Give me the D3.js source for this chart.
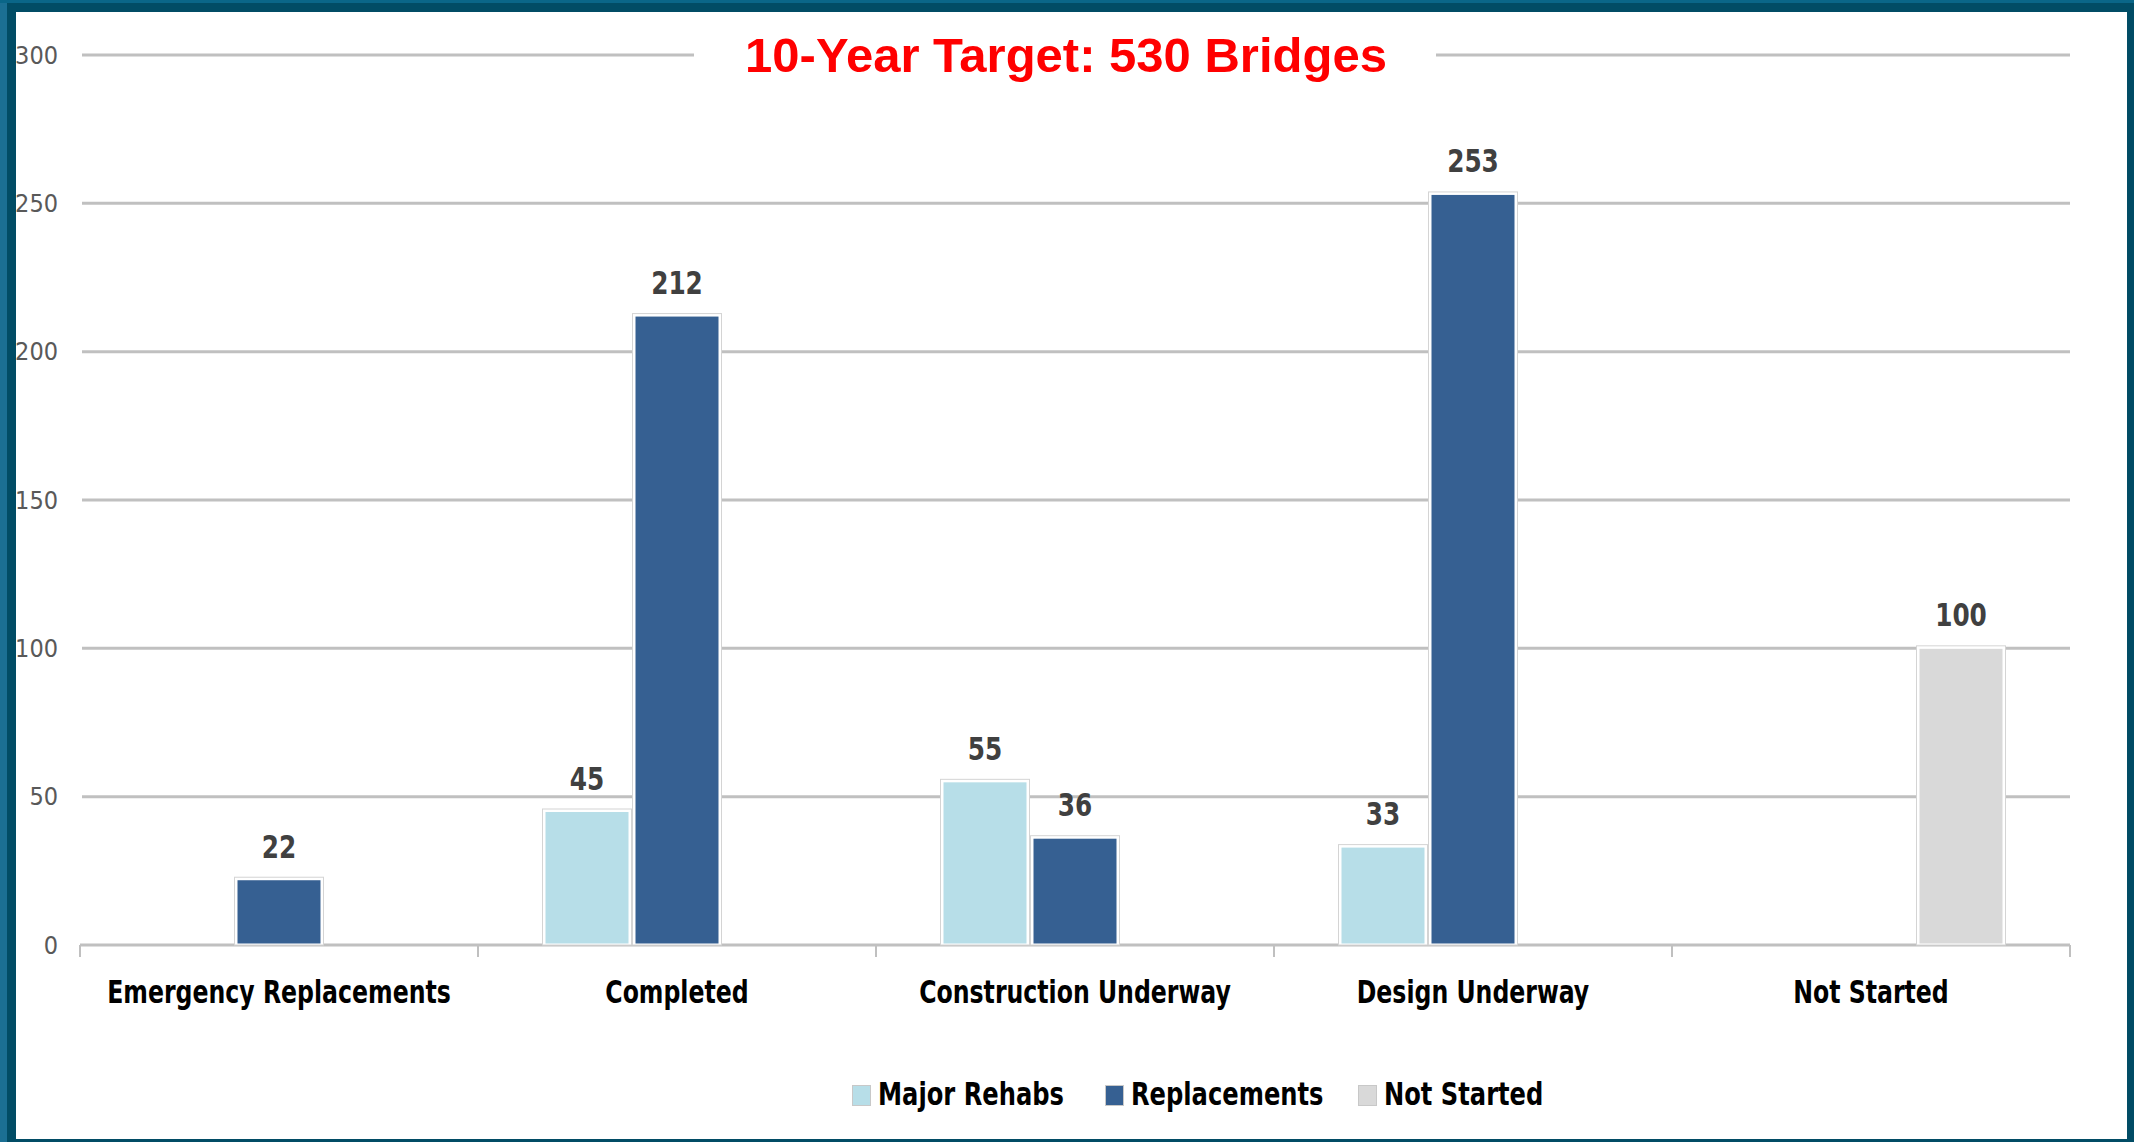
<!DOCTYPE html>
<html>
<head>
<meta charset="utf-8">
<script src="https://cdn.jsdelivr.net/npm/d3@7"></script>
<style>
    body { margin: 0; background: #014c65; }
    svg { display: block; }
</style>
</head>
<body>
<div id="chart"></div>
<script>
// Chart data
const categories = ["Emergency Replacements", "Completed", "Construction Underway", "Design Underway", "Not Started"];
const seriesNames = ["Major Rehabs", "Replacements", "Not Started"];
const majorRehabs = [0, 45, 55, 33, 0];
const replacements = [22, 212, 36, 253, 0];
const notStarted = [0, 0, 0, 0, 100];
const yTicks = [0, 50, 100, 150, 200, 250, 300];
const titleText = "10-Year Target: 530 Bridges";

const CONFIG = {
    width: 2134,
    height: 1142,
    plot: { left: 80, right: 2070, top: 55, bottom: 945 },
    groupWidth: 270,
    colors: ["#b7dee8", "#366092", "#d9d9d9"],
    grid: "#c0c0c0",
    labelFont: "'DejaVu Sans Condensed', 'DejaVu Sans', sans-serif"
};

const seriesValues = [majorRehabs, replacements, notStarted];

// Squeeze text horizontally so the wide fallback font reads like a narrow one
function narrow(sel, factor) {
    sel.each(function () {
        const len = this.getComputedTextLength();
        d3.select(this)
            .attr('textLength', len * factor)
            .attr('lengthAdjust', 'spacingAndGlyphs');
    });
}

const svg = d3.select('#chart')
    .append('svg')
    .attr('width', CONFIG.width)
    .attr('height', CONFIG.height);

// Frame around the white panel
svg.append('rect')
    .attr('width', CONFIG.width).attr('height', CONFIG.height)
    .attr('fill', '#014c65');
svg.append('rect')
    .attr('width', 7).attr('height', CONFIG.height)
    .attr('fill', '#1b6f93');
svg.append('rect')
    .attr('width', CONFIG.width).attr('height', 3)
    .attr('fill', '#0a6688');
svg.append('rect')
    .attr('x', 16).attr('y', 12)
    .attr('width', 2111).attr('height', 1127)
    .attr('fill', '#ffffff');

// Scales
const x0 = d3.scaleBand()
    .domain(categories)
    .range([CONFIG.plot.left, CONFIG.plot.right])
    .paddingInner(0);

const bw = x0.bandwidth();
const x1 = d3.scaleBand()
    .domain(seriesNames)
    .range([(bw - CONFIG.groupWidth) / 2, (bw + CONFIG.groupWidth) / 2]);

const y = d3.scaleLinear()
    .domain([0, 300])
    .range([CONFIG.plot.bottom, CONFIG.plot.top]);

// Gridlines
svg.append('g')
    .selectAll('line')
    .data(yTicks.filter(d => d > 0))
    .enter().append('line')
    .attr('x1', CONFIG.plot.left + 2)
    .attr('x2', CONFIG.plot.right)
    .attr('y1', d => y(d))
    .attr('y2', d => y(d))
    .attr('stroke', CONFIG.grid)
    .attr('stroke-width', 3);

// Y axis labels
const yAxis = svg.append('g')
    .attr('transform', `translate(${CONFIG.plot.left - 22},0)`)
    .call(d3.axisLeft(y).tickValues(yTicks).tickSize(0).tickPadding(0));
yAxis.select('.domain').remove();
yAxis.selectAll('text')
    .attr('fill', '#595959')
    .style('font-family', CONFIG.labelFont)
    .style('font-size', '25px');

// X axis with category ticks at band edges
const baseY = CONFIG.plot.bottom;
svg.append('line')
    .attr('x1', CONFIG.plot.left).attr('x2', CONFIG.plot.right)
    .attr('y1', baseY).attr('y2', baseY)
    .attr('stroke', CONFIG.grid).attr('stroke-width', 3);

const edges = categories.map(c => x0(c)).concat([CONFIG.plot.right]);
svg.append('g')
    .selectAll('line')
    .data(edges)
    .enter().append('line')
    .attr('x1', d => d).attr('x2', d => d)
    .attr('y1', baseY).attr('y2', baseY + 12)
    .attr('stroke', CONFIG.grid).attr('stroke-width', 2);

svg.append('g')
    .selectAll('text')
    .data(categories)
    .enter().append('text')
    .attr('x', d => x0(d) + bw / 2)
    .attr('y', baseY + 58)
    .attr('text-anchor', 'middle')
    .attr('fill', '#000')
    .style('font-family', CONFIG.labelFont)
    .style('font-weight', 'bold')
    .style('font-size', '32px')
    .text(d => d)
    .call(narrow, 0.82);

// Bars (zero values are not drawn)
const barData = [];
categories.forEach((c, i) => {
    seriesNames.forEach((s, j) => {
        const v = seriesValues[j][i];
        if (v > 0) barData.push({ cat: c, series: s, value: v, color: CONFIG.colors[j] });
    });
});

const bars = svg.append('g')
    .selectAll('g.bar')
    .data(barData)
    .enter().append('g')
    .attr('class', 'bar')
    .attr('transform', d => `translate(${x0(d.cat) + x1(d.series)},0)`);

// white outline with a faint grey edge
bars.append('rect')
    .attr('x', 0.5)
    .attr('y', d => y(d.value) - 2.5)
    .attr('width', x1.bandwidth() - 1)
    .attr('height', d => baseY - y(d.value) + 2.5)
    .attr('fill', '#ffffff')
    .attr('stroke', '#d4d4d4')
    .attr('stroke-width', 1);

bars.append('rect')
    .attr('x', 3.5)
    .attr('y', d => y(d.value) + 0.5)
    .attr('width', x1.bandwidth() - 7)
    .attr('height', d => baseY - y(d.value) - 2)
    .attr('fill', d => d.color);

bars.append('text')
    .attr('x', x1.bandwidth() / 2)
    .attr('y', d => y(d.value) - 22)
    .attr('text-anchor', 'middle')
    .attr('fill', '#404040')
    .style('font-family', CONFIG.labelFont)
    .style('font-weight', 'bold')
    .style('font-size', '32px')
    .text(d => d.value)
    .call(narrow, 0.86);

// Title on a white box that breaks the top gridline
const titleX = 1066;
svg.append('rect')
    .attr('x', 694).attr('y', 25)
    .attr('width', 742).attr('height', 60)
    .attr('fill', '#ffffff');
svg.append('text')
    .attr('x', titleX)
    .attr('y', 72)
    .attr('text-anchor', 'middle')
    .attr('fill', '#ff0000')
    .style('font-family', "'Liberation Sans', Arial, sans-serif")
    .style('font-weight', 'bold')
    .style('font-size', '49px')
    .text(titleText);

// Legend
const legendX = [852, 1105, 1358];
const legend = svg.append('g')
    .selectAll('g')
    .data(seriesNames)
    .enter().append('g')
    .attr('transform', (d, i) => `translate(${legendX[i]},1085)`);

legend.append('rect')
    .attr('x', 0.5).attr('y', 0.5)
    .attr('width', 18).attr('height', 20)
    .attr('fill', (d, i) => CONFIG.colors[i])
    .attr('stroke', '#c8c8c8')
    .attr('stroke-width', 1);

legend.append('text')
    .attr('x', 26)
    .attr('y', 20)
    .attr('fill', '#000')
    .style('font-family', CONFIG.labelFont)
    .style('font-weight', 'bold')
    .style('font-size', '32px')
    .text(d => d)
    .call(narrow, 0.84);
</script>
</body>
</html>
